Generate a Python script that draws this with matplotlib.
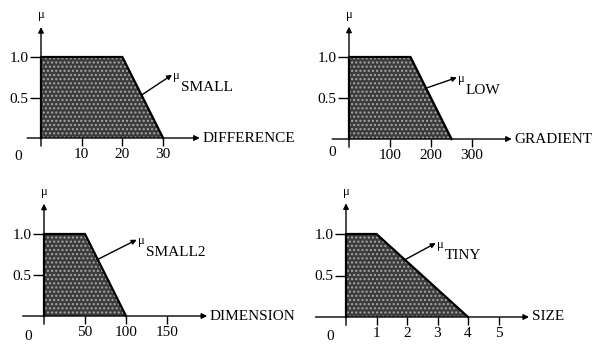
import matplotlib
matplotlib.use("Agg")
import matplotlib.pyplot as plt

plt.rcParams['font.family'] = ['Liberation Serif', 'DejaVu Serif']
plt.rcParams['hatch.color'] = '#a8a8a8'
plt.rcParams['hatch.linewidth'] = 1.0

W, H = 600, 345

# ---- data ----
diff_x = [0, 20, 30]
diff_mu = [1.0, 1.0, 0.0]
diff_ticks = [10, 20, 30]

grad_x = [0, 150, 250]
grad_mu = [1.0, 1.0, 0.0]
grad_ticks = [100, 200, 300]

dim_x = [0, 50, 100]
dim_mu = [1.0, 1.0, 0.0]
dim_ticks = [50, 100, 150]

size_x = [0, 1, 4]
size_mu = [1.0, 1.0, 0.0]
size_ticks = [1, 2, 3, 4, 5]

y_ticks = [0.5, 1.0]
y_tick_labels = ['0.5', '1.0']

panels = [
    dict(x=diff_x, mu=diff_mu, ticks=diff_ticks, xlabel='DIFFERENCE', sub='SMALL',
         box=(0, 300, 0, 172), origin=(41, 138), scale=(4.07, 81),
         xr=(-3.4, 39), arr=(0.53, 32.2, 0.78), zero=(-16.5, -13)),
    dict(x=grad_x, mu=grad_mu, ticks=grad_ticks, xlabel='GRADIENT', sub='LOW',
         box=(300, 600, 0, 172), origin=(349, 139), scale=(0.41, 82),
         xr=(-41, 397), arr=(0.62, 263, 0.75), zero=(-12, -9.5)),
    dict(x=dim_x, mu=dim_mu, ticks=dim_ticks, xlabel='DIMENSION', sub='SMALL2',
         box=(0, 300, 172, 345), origin=(44, 316), scale=(0.82, 82),
         xr=(-26, 199), arr=(0.69, 113, 0.93), zero=(-11.5, -14.5)),
    dict(x=size_x, mu=size_mu, ticks=size_ticks, xlabel='SIZE', sub='TINY',
         box=(300, 600, 172, 345), origin=(346, 317), scale=(30.5, 83),
         xr=(-1.0, 6.0), arr=(0.69, 2.94, 0.89), zero=(-11.5, -14)),
]

fig = plt.figure(figsize=(W / 100, H / 100), dpi=100)

for p in panels:
    L, R, T, B = p['box']
    ox, oy = p['origin']
    sx, sy = p['scale']
    ax = fig.add_axes([L / W, 1 - B / H, (R - L) / W, (B - T) / H])
    ax.set_xlim((L - ox) / sx, (R - ox) / sx)
    ax.set_ylim((oy - B) / sy, (oy - T) / sy)
    ax.patch.set_alpha(0)

    # filled membership function
    ax.fill_between(p['x'], p['mu'], 0, facecolor='#3c3c3c', edgecolor='none',
                    hatch='....', zorder=2)
    ax.plot([0] + p['x'], [0] + p['mu'], color='black', lw=1.6, zorder=3,
            solid_joinstyle='miter')

    # axes with arrows
    x0, x1 = p['xr']
    ax.annotate('', xy=(x1, 0), xytext=(x0, 0),
                arrowprops=dict(arrowstyle='-|>', color='black', lw=1.0,
                                mutation_scale=8, shrinkA=0, shrinkB=0), zorder=4)
    ax.annotate('', xy=(0, 1.37), xytext=(0, -0.1),
                arrowprops=dict(arrowstyle='-|>', color='black', lw=1.0,
                                mutation_scale=8, shrinkA=0, shrinkB=0), zorder=4)
    ax.annotate(p['xlabel'], xy=(x1, 0), xytext=(2, 0), textcoords='offset points',
                ha='left', va='center', fontsize=11)
    ax.annotate('μ', xy=(0, 1.37), xytext=(0, 4), textcoords='offset points',
                ha='center', va='bottom', fontsize=9)
    ax.annotate('0', xy=(0, 0), xytext=p['zero'], textcoords='offset points',
                ha='center', va='center', fontsize=11)

    # ticks
    for s in ax.spines.values():
        s.set_visible(False)
    ax.spines['left'].set_position(('data', 0))
    ax.spines['bottom'].set_position(('data', 0))
    ax.set_xticks(p['ticks'], labels=[str(t) for t in p['ticks']])
    ax.set_yticks(y_ticks, labels=y_tick_labels)
    ax.tick_params(axis='x', direction='out', length=6, width=1, pad=1.5,
                   labelsize=11)
    ax.tick_params(axis='y', direction='out', length=8, width=1, pad=1,
                   labelsize=11)

    # membership label with arrow
    ya, xt, yt = p['arr']
    # point on the sloping edge at height ya
    xa = p['x'][1] + (p['x'][2] - p['x'][1]) * (1 - ya)
    ax.annotate('', xy=(xt, yt), xytext=(xa, ya),
                arrowprops=dict(arrowstyle='-|>', color='black', lw=1.0,
                                mutation_scale=7, shrinkA=0, shrinkB=0), zorder=4)
    ax.annotate('μ', xy=(xt, yt), xytext=(1, -1), textcoords='offset points',
                ha='left', va='center', fontsize=9)
    ax.annotate(p['sub'], xy=(xt, yt), xytext=(6.5, -9), textcoords='offset points',
                ha='left', va='center', fontsize=11)

fig.savefig('out.png', dpi=100)
